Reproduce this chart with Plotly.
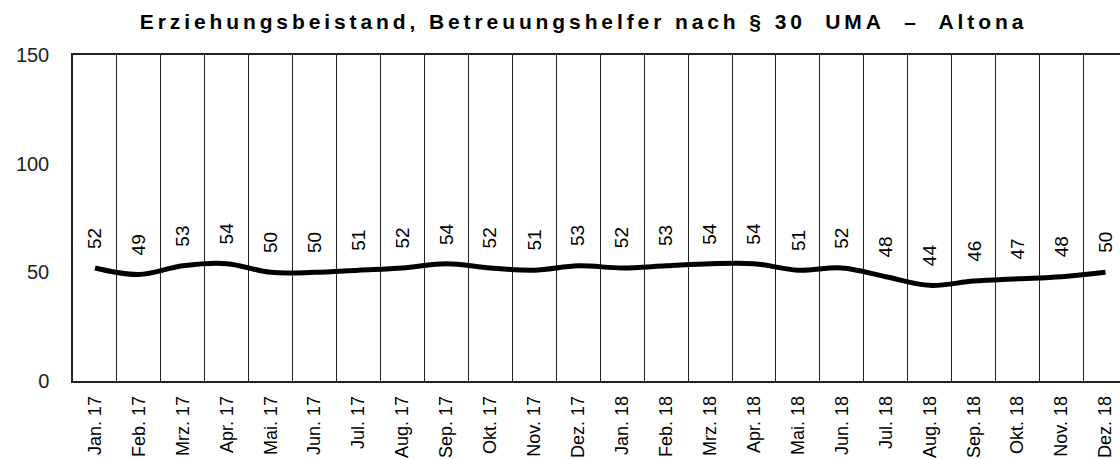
import plotly.graph_objects as go

months = ["Jan. 17", "Feb. 17", "Mrz. 17", "Apr. 17", "Mai. 17", "Jun. 17", "Jul. 17", "Aug. 17",
          "Sep. 17", "Okt. 17", "Nov. 17", "Dez. 17", "Jan. 18", "Feb. 18", "Mrz. 18", "Apr. 18",
          "Mai. 18", "Jun. 18", "Jul. 18", "Aug. 18", "Sep. 18", "Okt. 18", "Nov. 18", "Dez. 18"]
values = [52, 49, 53, 54, 50, 50, 51, 52, 54, 52, 51, 53, 52, 53, 54, 54, 51, 52, 48, 44, 46, 47, 48, 50]
y_ticks = [0, 50, 100, 150]
title_text = "<b>Erziehungsbeistand, Betreuungshelfer nach § 30\u00a0 UMA\u00a0 –\u00a0 Altona</b>"

FONT = "Liberation Sans, Arial, sans-serif"
idx = list(range(len(months)))

fig = go.Figure()
fig.add_trace(go.Scatter(
    x=idx, y=values, mode="lines",
    line=dict(color="black", width=5, shape="spline", smoothing=1.0),
    hoverinfo="skip", showlegend=False,
))

for i, v in zip(idx, values):
    fig.add_annotation(
        x=i, y=v, xref="x", yref="y", text=str(v), showarrow=False,
        textangle=-90, yanchor="middle", xanchor="center", yshift=30,
        font=dict(family=FONT, size=19, color="black"),
    )

fig.update_layout(
    width=1120, height=459,
    margin=dict(l=73, r=0, t=55, b=78),
    paper_bgcolor="white", plot_bgcolor="white",
    title=dict(text=title_text, x=0.521, xanchor="center", y=0.952, yanchor="middle",
               xref="container", yref="container", automargin=False,
               font=dict(family=FONT, size=21, color="black")),
    font=dict(family=FONT, color="black"),
    showlegend=False,
)

fig.update_xaxes(
    range=[-0.5, 23.33], automargin=False,
    tickmode="array", tickvals=idx, ticktext=months, tickangle=-90,
    tickfont=dict(family=FONT, size=18, color="black"),
    ticks="", ticklabelstandoff=6,
    showgrid=False, zeroline=False,
    showline=True, linecolor="#222", linewidth=1.5, mirror=True,
    minor=dict(tick0=0.5, dtick=1, showgrid=True, gridcolor="#222", gridwidth=1.4, ticks=""),
)
fig.update_yaxes(
    range=[0, 150], tickmode="array", tickvals=y_ticks, automargin=False,
    tickfont=dict(family=FONT, size=20, color="#222"),
    ticks="", ticklabelstandoff=18,
    showgrid=False, zeroline=False,
    showline=True, linecolor="#222", linewidth=1.5,
)

post = """
document.body.style.margin = '0';
document.body.style.overflow = 'hidden';
var gd = document.getElementById('{plot_id}');
function spaceTitle(){
  gd.querySelectorAll('.gtitle').forEach(function(t){ t.style.letterSpacing = '3.9px'; });
}
spaceTitle();
gd.on('plotly_afterplot', spaceTitle);
"""

fig.write_html("out.html", post_script=post, config={"displayModeBar": False})
